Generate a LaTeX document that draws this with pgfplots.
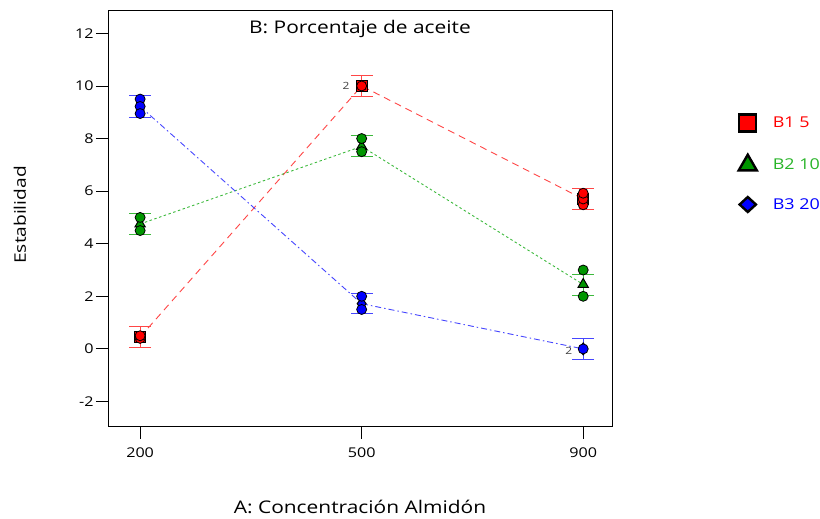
\documentclass[border=0pt]{standalone}
\usepackage{fontspec}
\setmainfont[FakeStretch=1.2]{Open Sans}
\usepackage{pgfplots}
\pgfplotsset{compat=1.18}
\definecolor{cred}{RGB}{255,0,0}
\definecolor{lred}{RGB}{255,70,70}
\definecolor{cgreen}{RGB}{0,150,0}
\definecolor{lgreen}{RGB}{60,185,60}
\definecolor{cblue}{RGB}{0,0,255}
\definecolor{lblue}{RGB}{70,70,255}
\definecolor{tgreen}{RGB}{40,180,40}
\pgfplotsset{ebar/.style={forget plot, color=#1, only marks, mark=none,
  error bars/.cd, y dir=both, y explicit,
  error bar style={draw=#1, line width=0.9bp},
  error mark options={rotate=90, draw=#1, mark size=11bp, line width=0.9bp}}}
\begin{document}
\begin{tikzpicture}
\path[use as bounding box] (0,0) rectangle (820bp,519bp);
\begin{axis}[
  at={(108bp,92bp)}, anchor=south west,
  scale only axis, width=504bp, height=416bp,
  xmin=-0.145, xmax=2.13, ymin=-2.97, ymax=12.85,
  xtick={0,1,2}, xticklabels={200,500,900},
  ytick={-2,0,2,4,6,8,10,12},
  tick align=outside, tick pos=left, major tick length=12bp,
  tick style={black, line width=0.8bp},
  axis line style={line width=1bp},
  tick label style={font=\fontsize{13.5}{14}\selectfont},
  /pgf/number format/assume math mode=true,
  xticklabel style={yshift=-5bp},
  yticklabel style={xshift=1bp},
  clip=false,
  legend style={at={(1.245,0.756)}, anchor=north west, draw=none, fill=none,
    font=\fontsize{15}{15}\selectfont, row sep=23bp, legend cell align=left,
    /tikz/every odd column/.append style={column sep=14bp}},
]
% connecting lines (means)
\addplot[lred, line width=0.9bp, dash pattern=on 7bp off 5bp, forget plot] coordinates {(0,0.45) (1,10) (2,5.7)};
\addplot[lgreen, line width=0.9bp, dash pattern=on 2.5bp off 2.5bp, forget plot] coordinates {(0,4.75) (1,7.7) (2,2.45)};
\addplot[lblue, line width=0.9bp, dash pattern=on 6bp off 3bp on 1.5bp off 3bp, forget plot] coordinates {(0,9.22) (1,1.72) (2,0)};
% error bars
\addplot[ebar=lred] coordinates {(0,0.45) +- (0,0.4) (1,10) +- (0,0.4) (2,5.7) +- (0,0.4)};
\addplot[ebar=lgreen] coordinates {(0,4.75) +- (0,0.4) (1,7.7) +- (0,0.4) (2,2.45) +- (0,0.4)};
\addplot[ebar=lblue] coordinates {(0,9.22) +- (0,0.42) (1,1.72) +- (0,0.38) (2,0) +- (0,0.4)};
% mean markers
\addplot[forget plot, only marks, mark=square*, mark size=5.5bp, mark options={fill=cred, draw=black, line width=1.2bp}]
  coordinates {(0,0.45) (1,10) (2,5.7)};
\addplot[forget plot, only marks, mark=triangle*, mark size=6bp, mark options={fill=cgreen, draw=black, line width=1bp}]
  coordinates {(0,4.75) (1,7.7) (2,2.45)};
\addplot[forget plot, only marks, mark=diamond*, mark size=6bp, mark options={fill=cblue, draw=black, line width=1bp}]
  coordinates {(0,9.22) (1,1.72) (2,0)};
% observations
\addplot[only marks, mark=*, mark size=5bp, mark options={fill=cred, draw=black, line width=0.8bp}, forget plot]
  coordinates {(0,0.4) (0,0.5) (1,10) (2,5.48) (2,5.7) (2,5.92)};
\addplot[only marks, mark=*, mark size=5bp, mark options={fill=cgreen, draw=black, line width=0.8bp}, forget plot]
  coordinates {(0,5) (0,4.5) (1,8) (1,7.5) (2,3) (2,2)};
\addplot[only marks, mark=*, mark size=5bp, mark options={fill=cblue, draw=black, line width=0.8bp}, forget plot]
  coordinates {(0,9.5) (0,9.22) (0,8.95) (1,2) (1,1.5) (2,0)};
% replicate counts
\node[font=\fontsize{10}{10}\selectfont, text=black!75] at (axis cs:0.93,10) {2};
\node[font=\fontsize{10}{10}\selectfont, text=black!75] at (axis cs:1.935,-0.07) {2};
% legend
\addlegendimage{only marks, mark=square*, mark size=8.5bp, mark options={fill=cred, draw=black, line width=2.4bp}}
\addlegendentry{\textcolor{cred}{B1 5}}
\addlegendimage{only marks, mark=triangle*, mark size=10.5bp, mark options={fill=cgreen, draw=black, line width=2.4bp}}
\addlegendentry{\textcolor{tgreen}{B2 10}}
\addlegendimage{only marks, mark=diamond*, mark size=7.5bp, mark options={xscale=1.45, fill=cblue, draw=black, line width=2.4bp}}
\addlegendentry{\textcolor{cblue}{B3 20}}
\node[anchor=north, font=\fontsize{17.5}{17.5}\selectfont] at (axis description cs:0.5,1) [yshift=-6bp] {B: Porcentaje de aceite};
\end{axis}
\node[rotate=90, font=\fontsize{16}{16}\selectfont] at (20bp,304bp) {Estabilidad};
\node[font=\fontsize{17.5}{17.5}\selectfont] at (360bp,12bp) {A: Concentración Almidón};
\end{tikzpicture}
\end{document}
